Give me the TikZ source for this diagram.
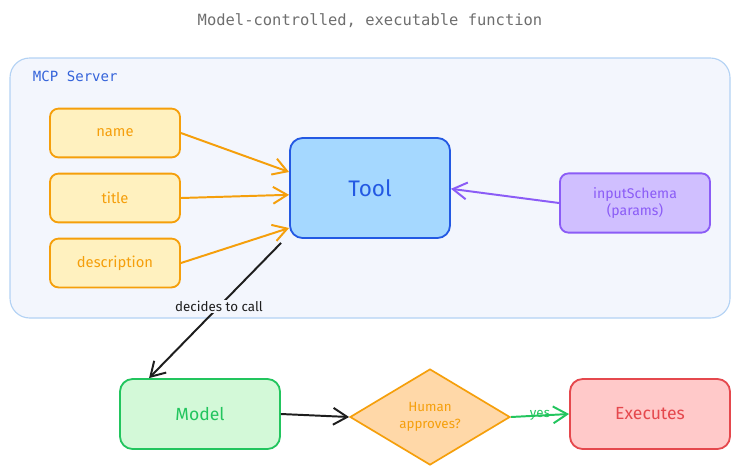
\documentclass[tikz,border=0pt]{standalone}
\usepackage{fontspec}
\setmainfont{Fira Sans}
\setmonofont{DejaVu Sans Mono}
\usepackage{xcolor}
\usepackage{tikz}
\usetikzlibrary{positioning,arrows.meta,shapes.geometric}

\definecolor{srvfill}{HTML}{F3F6FD}
\definecolor{srvdraw}{HTML}{B3D2F4}
\definecolor{srvtext}{HTML}{3463DA}
\definecolor{propfill}{HTML}{FFF1BF}
\definecolor{propdraw}{HTML}{F59F0B}
\definecolor{toolfill}{HTML}{A5D8FF}
\definecolor{tooldraw}{HTML}{2359E3}
\definecolor{schemafill}{HTML}{D0BFFF}
\definecolor{schemadraw}{HTML}{8B5CF6}
\definecolor{modelfill}{HTML}{D3F9D8}
\definecolor{modeldraw}{HTML}{22C55E}
\definecolor{askfill}{HTML}{FFD8A8}
\definecolor{execfill}{HTML}{FFC9C9}
\definecolor{execdraw}{HTML}{E5484D}
\definecolor{ink}{HTML}{1E1E1E}
\definecolor{titlegray}{HTML}{6E6E6E}

\begin{document}
\begin{tikzpicture}[x=0.025cm, y=-0.025cm, >={Straight Barb[length=3.5mm,width=4.2mm]},
  box/.style={draw, line width=1.3pt, rounded corners=6pt, align=center, inner sep=0pt},
  prop/.style={box, fill=propfill, draw=propdraw, text=propdraw, minimum width=3.25cm, minimum height=1.22cm, font=\fontsize{10.5}{12}\selectfont},
  flow/.style={->, line width=1.4pt}]
  \useasboundingbox (0,0) rectangle (740,475);
  \node[text=titlegray, font=\ttfamily\fontsize{11}{13}\selectfont] (title) at (370,21) {Model-controlled, executable function};
  % server area
  \draw[srvdraw, fill=srvfill, line width=0.8pt, rounded corners=14pt] (10,58) rectangle (730,318);
  \node[text=srvtext, font=\ttfamily\fontsize{10}{12}\selectfont, anchor=west] (srvlbl) at (28,76) {MCP Server};
  \node[prop] (name) at (115,133) {name};
  \node[prop] (ttl) at (115,198) {title};
  \node[prop] (desc) at (115,263) {description};
  \node[box, fill=toolfill, draw=tooldraw, text=tooldraw, minimum width=4cm, minimum height=2.5cm, rounded corners=9pt, font=\fontsize{16}{19}\selectfont] (tool) at (370,188) {Tool};
  \node[box, fill=schemafill, draw=schemadraw, text=schemadraw, minimum width=3.75cm, minimum height=1.48cm, font=\fontsize{10}{12}\selectfont] (schema) at (635,203) {inputSchema\\(params)};
  % bottom row
  \node[box, fill=modelfill, draw=modeldraw, text=modeldraw, minimum width=4cm, minimum height=1.75cm, rounded corners=9pt, font=\fontsize{12.5}{15}\selectfont] (model) at (200,414) {Model};
  \node[draw=propdraw, fill=askfill, text=propdraw, line width=1.2pt, diamond, inner sep=0pt, minimum width=4cm, minimum height=2.4cm, align=center, font=\fontsize{9.5}{12}\selectfont] (ask) at (430,417) {Human\\approves?};
  \node[box, fill=execfill, draw=execdraw, text=execdraw, minimum width=4cm, minimum height=1.75cm, rounded corners=9pt, font=\fontsize{12.5}{15}\selectfont] (exec) at (650,414) {Executes};
  \draw[flow, propdraw] (name.east) -- ([yshift=0.4cm]tool.west);
  \draw[flow, propdraw] (ttl.east) -- ([yshift=-0.17cm]tool.west);
  \draw[flow, propdraw] (desc.east) -- ([yshift=-1cm]tool.west);
  \draw[flow, schemadraw] (schema.west) -- ([yshift=-0.02cm]tool.east);
  \draw[flow, ink] ([xshift=-0.2cm,yshift=-0.1cm]tool.south west) -- node[pos=0.47, fill=srvfill, inner sep=1pt, text=ink, font=\fontsize{9.5}{11}\selectfont] (call) {decides to call} ([xshift=0.75cm]model.north west);
  \draw[flow, ink] (model.east) -- (ask.west);
  \draw[flow, modeldraw] (ask.east) -- node[text=modeldraw, inner sep=0pt, font=\fontsize{9.5}{11}\selectfont] (yes) {yes} (exec.west);
\end{tikzpicture}
\end{document}
